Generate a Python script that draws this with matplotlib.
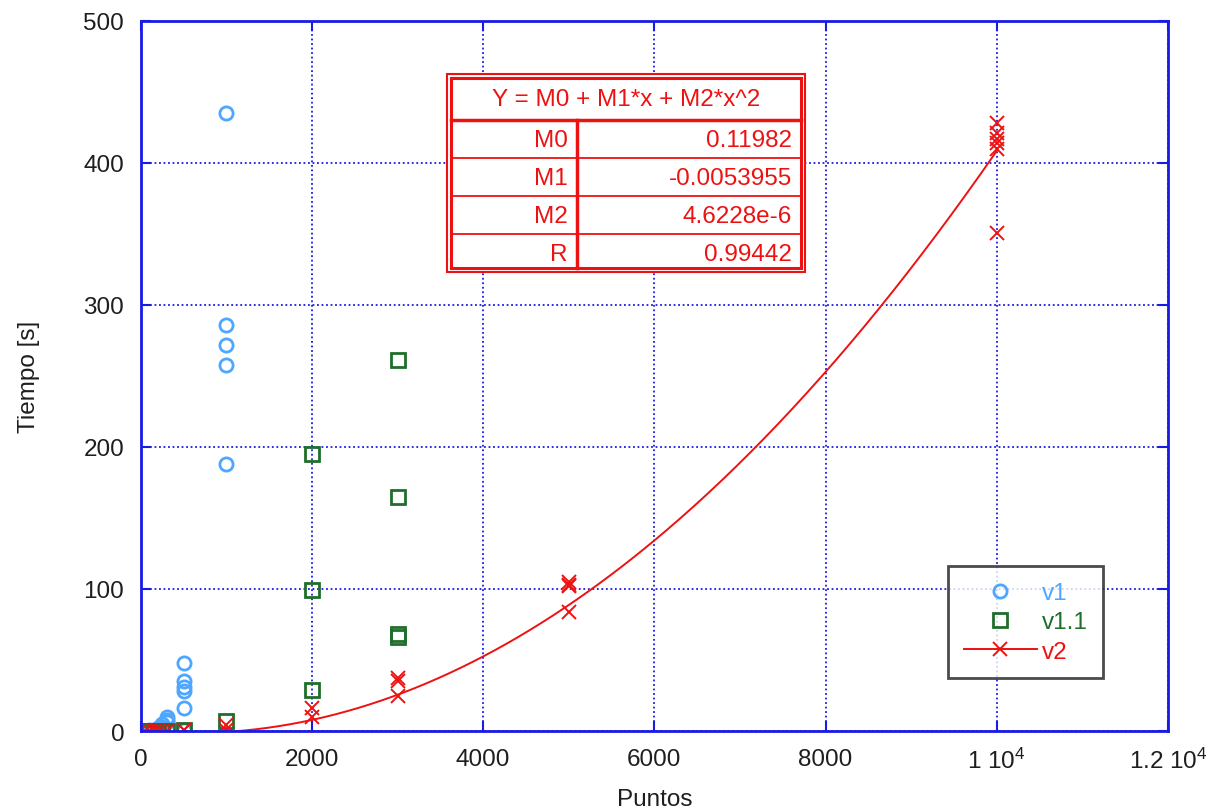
import numpy as np
import matplotlib
matplotlib.use("Agg")
import matplotlib.pyplot as plt
from matplotlib.lines import Line2D
from matplotlib.patches import Rectangle

plt.rcParams['font.family'] = ['Liberation Sans', 'DejaVu Sans']
plt.rcParams['mathtext.default'] = 'regular'

# data
v1_x = [50, 100, 150, 200, 250, 250, 300, 300, 300,
        500, 500, 500, 500, 500, 500,
        1000, 1000, 1000, 1000, 1000]
v1_y = [0.2, 0.5, 1, 2, 3, 5, 6, 8, 10,
        1, 16, 28, 31, 35, 48,
        188, 258, 272, 286, 435]

v11_x = [50, 100, 150, 200, 250, 300, 500, 1000,
         2000, 2000, 2000, 3000, 3000, 3000, 3000]
v11_y = [0, 0, 0, 0, 0, 0, 1, 7,
         29, 99, 195, 66, 68, 165, 261]

v2_x = [50, 100, 150, 200, 250, 300, 500, 500, 1000, 1000,
        2000, 2000, 3000, 3000, 3000, 5000, 5000, 5000, 5000,
        10000, 10000, 10000, 10000, 10000, 10000]
v2_y = [0, 0, 0, 0, 0, 0, 0.5, 1, 1, 4,
        10, 16, 25, 35, 37, 84, 102, 103, 105,
        351, 410, 414, 417, 421, 428]

# fit coefficients shown in the box
M0 = 0.11982
M1 = -0.0053955
M2 = 4.6228e-6
R = 0.99442

xticks = [0, 2000, 4000, 6000, 8000, 10000, 12000]
xtick_labels = ['0', '2000', '4000', '6000', '8000', '1 10$^{4}$', '1.2 10$^{4}$']
yticks = [0, 100, 200, 300, 400, 500]

c_v1 = '#4da6ff'
c_v11 = '#1f6e2c'
c_v2 = '#ee1111'
blue = '#1a1ae6'
txt = '#1e1e1e'
fs = 17.5

fig = plt.figure(figsize=(12.14, 8.12), dpi=100)
ax = fig.add_axes([0.116, 0.0985, 0.846, 0.8745])

ax.plot(v1_x, v1_y, 'o', ls='none', ms=9.5, mfc='none', mec=c_v1, mew=2)
ax.plot(v11_x, v11_y, 's', ls='none', ms=10, mfc='none', mec=c_v11, mew=2)
ax.plot(v2_x, v2_y, 'x', ls='none', ms=10.5, mec=c_v2, mew=1.4)

xf = np.linspace(0, 10000, 300)
ax.plot(xf, M0 + M1 * xf + M2 * xf ** 2, '-', color=c_v2, lw=1.4)

ax.set_xlim(0, 12000)
ax.set_ylim(0, 500)
ax.set_xticks(xticks)
ax.set_xticklabels(xtick_labels)
ax.set_yticks(yticks)
ax.grid(True, color=blue, ls=(0, (1, 1.5)), lw=1.3)
for s in ax.spines.values():
    s.set_color(blue)
    s.set_linewidth(2)
ax.tick_params(direction='in', length=7, width=1.5, color=blue,
               top=True, right=True, labelsize=fs, labelcolor=txt, pad=12)
ax.set_xlabel('Puntos', fontsize=fs, color=txt, labelpad=11)
ax.set_ylabel('Tiempo [s]', fontsize=fs, color=txt, labelpad=31)

# fit box
bx0, bx1, by0, by1 = 447 / 1214, 805 / 1214, 1 - 273 / 812, 1 - 75 / 812
fig.patches.append(Rectangle((bx0, by0), bx1 - bx0, by1 - by0, transform=fig.transFigure,
                             facecolor='white', edgecolor=c_v2, lw=1.5, zorder=5))
ix0, ix1, iy0, iy1 = 451 / 1214, 801 / 1214, 1 - 269 / 812, 1 - 79 / 812
fig.patches.append(Rectangle((ix0, iy0), ix1 - ix0, iy1 - iy0, transform=fig.transFigure,
                             facecolor='none', edgecolor=c_v2, lw=2.2, zorder=6))
rows_y = [121, 159, 197, 235]
fig.add_artist(Line2D([ix0, ix1], [1 - 121 / 812] * 2, color=c_v2, lw=2.5, zorder=6))
for ry in rows_y[1:]:
    fig.add_artist(Line2D([ix0, ix1], [1 - ry / 812] * 2, color=c_v2, lw=1.3, zorder=6))
fig.add_artist(Line2D([577 / 1214] * 2, [iy0, 1 - 121 / 812], color=c_v2, lw=2.5, zorder=6))
fig.text((ix0 + ix1) / 2, 1 - 100 / 812, 'Y = M0 + M1*x + M2*x^2', color=c_v2,
         fontsize=fs, ha='center', va='center', zorder=7)
names = ['M0', 'M1', 'M2', 'R']
vals = ['0.11982', '-0.0053955', '4.6228e-6', '0.99442']
for i in range(4):
    yc = 1 - (141 + 38 * i) / 812
    fig.text(568 / 1214, yc, names[i], color=c_v2, fontsize=fs, ha='right', va='center', zorder=7)
    fig.text(792 / 1214, yc, vals[i], color=c_v2, fontsize=fs, ha='right', va='center', zorder=7)

handles = [
    Line2D([], [], marker='o', ls='none', ms=9.5, mfc='none', mec=c_v1, mew=2),
    Line2D([], [], marker='s', ls='none', ms=10, mfc='none', mec=c_v11, mew=2),
    Line2D([], [], marker='x', ls='-', color=c_v2, ms=10.5, mew=1.4, lw=1.4),
]
leg = ax.legend(handles, ['v1', 'v1.1', 'v2'], loc='upper left',
                bbox_to_anchor=(0.786, 0.232), fontsize=fs, frameon=True, fancybox=False,
                labelcolor=[c_v1, c_v11, c_v2], handlelength=3.0, handletextpad=0.2,
                borderpad=0.65, labelspacing=0.3, borderaxespad=0)
leg.get_frame().set_edgecolor(txt)
leg.get_frame().set_linewidth(2)

fig.savefig('out.png', dpi=100)
